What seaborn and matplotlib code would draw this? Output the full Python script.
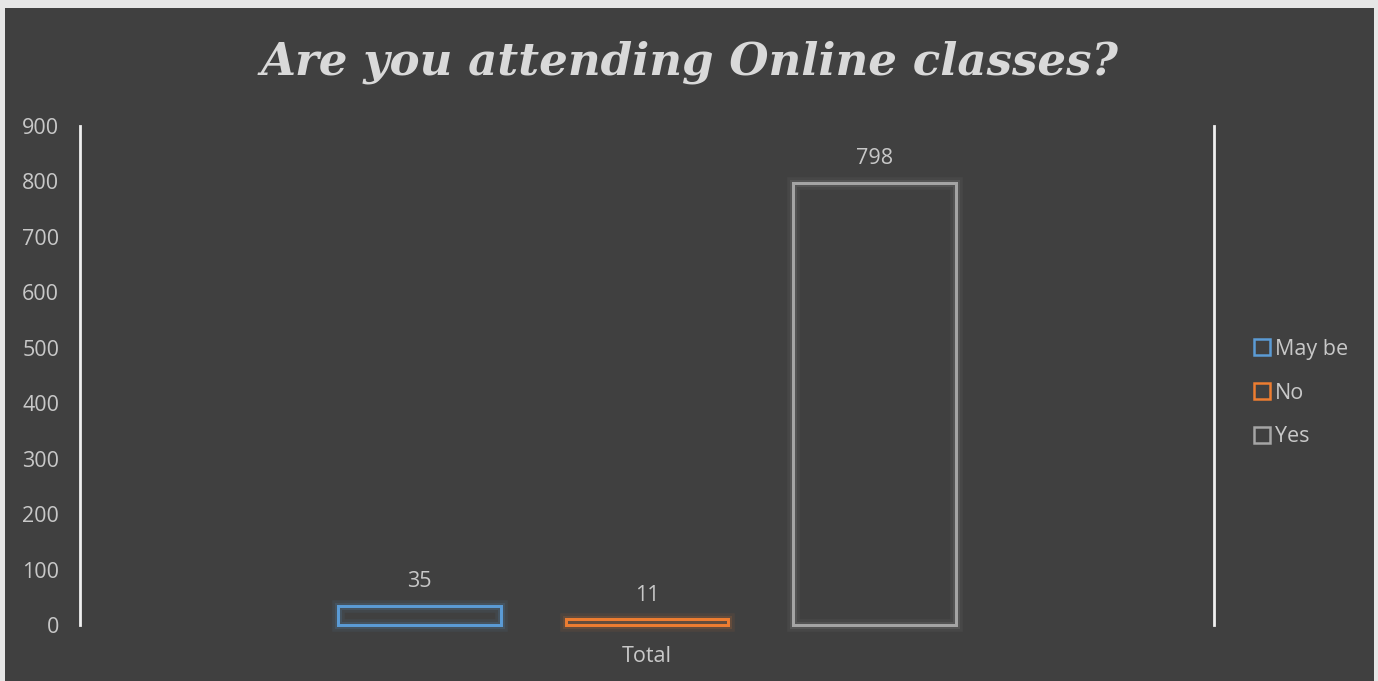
import pandas as pd
import seaborn as sns
import matplotlib.pyplot as plt
import matplotlib.patheffects as pe
from matplotlib.patches import Rectangle
from matplotlib.lines import Line2D

# dados
categoria = ['Total']
respostas = ['May be', 'No', 'Yes']
valores = [35, 11, 798]
cores = ['#5b9bd5', '#ed7d31', '#a5a5a5']

df = pd.DataFrame({'Grupo': categoria * 3, 'Resposta': respostas, 'Valor': valores})

sns.set_style('dark')
plt.rcParams['font.family'] = ['Open Sans', 'DejaVu Sans']

fundo = '#404040'
texto = '#c8c8c8'

fig = plt.figure(figsize=(13.78, 6.81), dpi=100)
fig.patch.set_facecolor('#e6e6e6')
fig.patches.append(Rectangle((5 / 1378, 0), 1369 / 1378, 673 / 681,
                             transform=fig.transFigure, facecolor=fundo,
                             edgecolor='none', zorder=-5))

ax = fig.add_axes([80 / 1378, 56 / 681, 1134 / 1378, 499 / 681])
ax.set_facecolor(fundo)

sns.barplot(data=df, x='Grupo', y='Valor', hue='Resposta', palette=cores,
            width=0.603, gap=0.285, ax=ax, legend=False)

for barra, cor, v in zip(ax.patches, cores, valores):
    barra.set_facecolor('none')
    barra.set_edgecolor(cor)
    barra.set_linewidth(2)
    barra.set_clip_on(False)
    barra.set_path_effects([pe.withStroke(linewidth=9, foreground=cor, alpha=0.08),
                            pe.withStroke(linewidth=5, foreground=cor, alpha=0.15),
                            pe.Normal()])
    ax.text(barra.get_x() + barra.get_width() / 2, v + 24, str(v),
            ha='center', va='bottom', color=texto, fontsize=15.5)

ax.set_ylim(0, 900)
ax.set_xlim(-0.5, 0.5)
ax.set_yticks(range(0, 901, 100))
ax.tick_params(axis='y', colors=texto, labelsize=15.5, length=0, pad=15)
ax.tick_params(axis='x', colors=texto, labelsize=15.5, length=0, pad=15)
ax.set_xlabel('')
ax.set_ylabel('')
ax.grid(False)
for lado in ['top', 'bottom']:
    ax.spines[lado].set_visible(False)
for lado in ['left', 'right']:
    ax.spines[lado].set_visible(True)
    ax.spines[lado].set_color('#f0f0f0')
    ax.spines[lado].set_linewidth(2)

fig.text(690 / 1378, 1 - 62 / 681, 'Are you attending Online classes?',
         ha='center', va='center', color='#d9d9d9', fontsize=32.5,
         fontweight='bold', fontstyle='italic', family='DejaVu Serif')

marcas = [Line2D([0], [0], marker='s', linestyle='none', markersize=11,
                 markerfacecolor='none', markeredgecolor=c, markeredgewidth=1.8)
          for c in cores]
leg = fig.legend(marcas, respostas, loc='center left',
                 bbox_to_anchor=(1232 / 1378, 1 - 393 / 681), frameon=False,
                 fontsize=15.5, labelcolor=texto, handletextpad=0.1,
                 labelspacing=1.05, handlelength=1.0)

fig.savefig('out.png', dpi=100, facecolor=fig.get_facecolor())
